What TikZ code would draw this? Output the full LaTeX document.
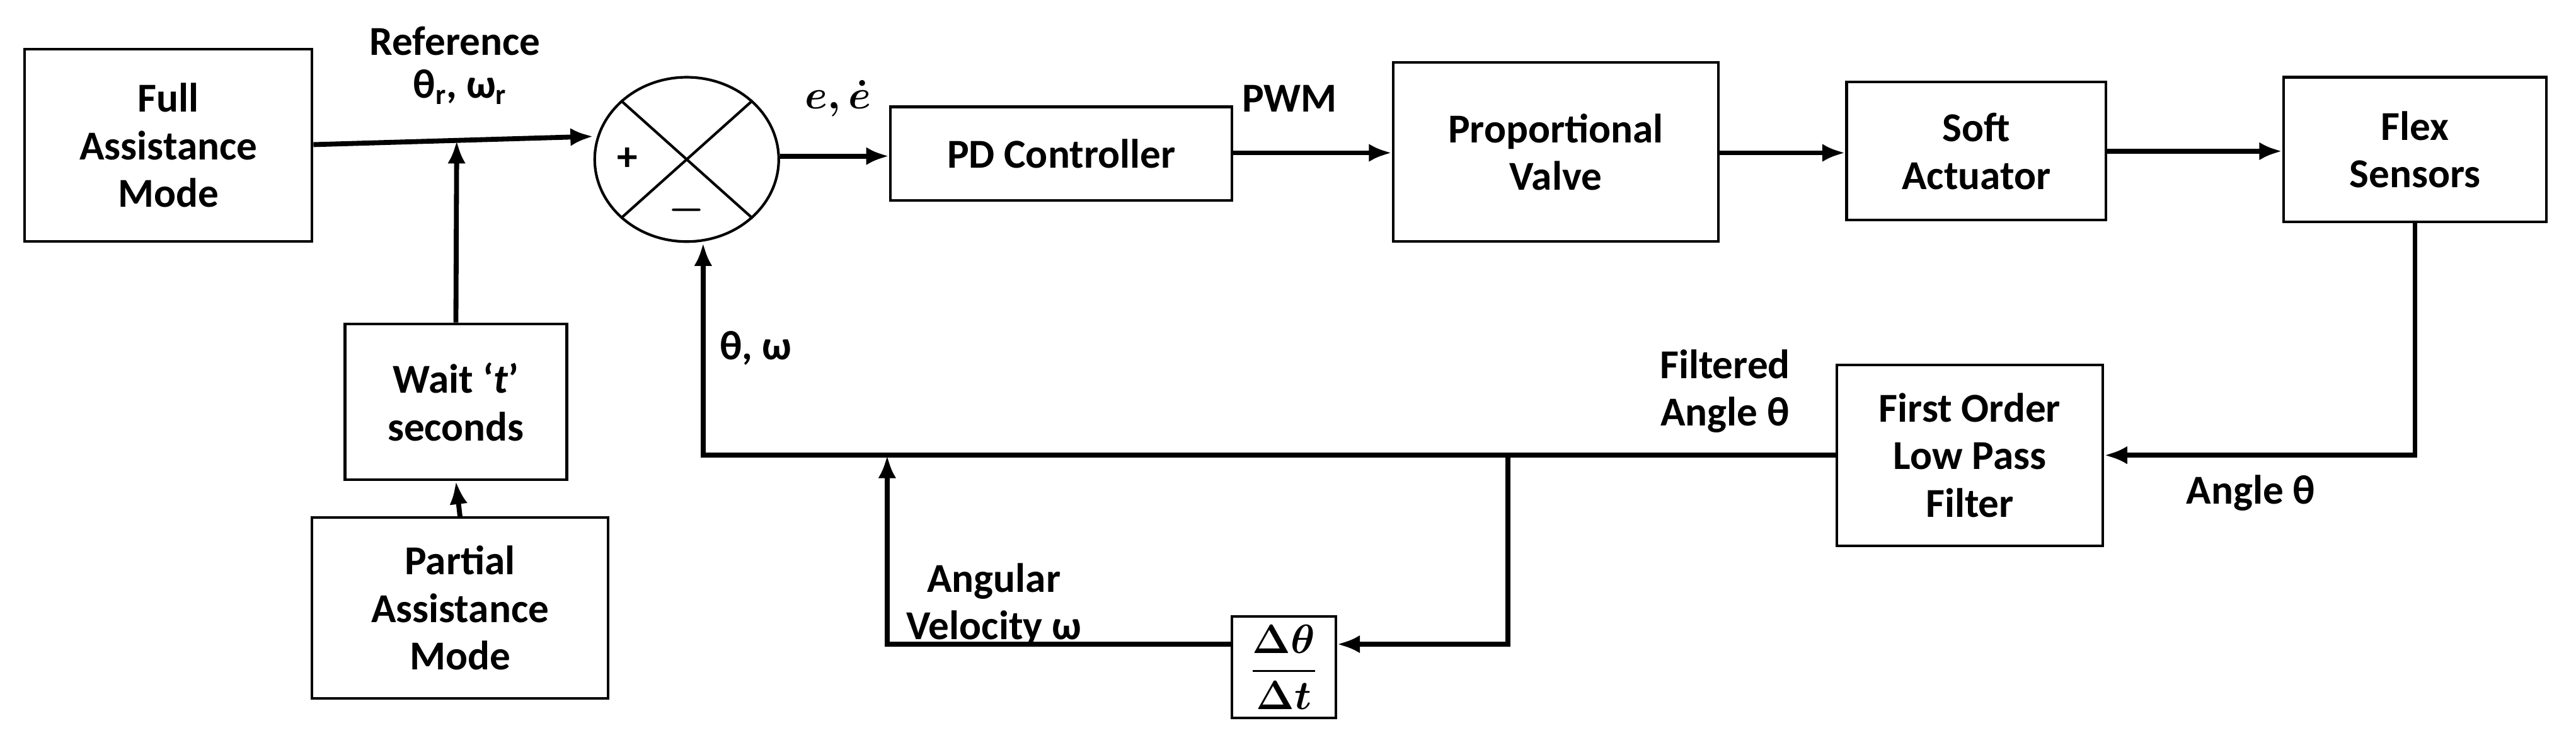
\documentclass[tikz,border=0pt]{standalone}
\usepackage{fontspec}
\setmainfont{Carlito}
\usepackage{amsmath}
\usetikzlibrary{arrows.meta,shapes.geometric}
\begin{document}
\begin{tikzpicture}[x=1pt,y=-1pt,
 every node/.style={font=\fontsize{25}{29}\selectfont\bfseries,align=center},
 box/.style={draw,line width=1.6pt,inner sep=0pt},
 ln/.style={line width=3pt,-{Latex[length=14pt,width=11pt]}},
 pl/.style={line width=3pt}]
\useasboundingbox (0,0) rectangle (1568,450);
\node[box,minimum width=175,minimum height=117] (full) at (102.5,88.5) {Full\\Assistance\\Mode};
\node[box,minimum width=135,minimum height=95] (wait) at (277.5,244.5) {Wait `\textit{t}'\\seconds};
\node[box,minimum width=180,minimum height=110] (part) at (280,370) {Partial\\Assistance\\Mode};
\node[draw,line width=1.6pt,ellipse,minimum width=112,minimum height=100,inner sep=0pt] (sum) at (418,97) {};
\draw[line width=1.6pt] (sum.north west)--(sum.south east) (sum.north east)--(sum.south west);
\node at (382,97) {+};
\node at (418,128) {$\boldsymbol{-}$};
\node[box,minimum width=208,minimum height=57] (pd) at (646,93.5) {PD Controller};
\node[box,minimum width=198,minimum height=109] (valve) at (947,92.5) {Proportional\\Valve};
\node[box,minimum width=158,minimum height=84] (soft) at (1203,92) {Soft\\Actuator};
\node[box,minimum width=160,minimum height=88] (flex) at (1470,91) {Flex\\Sensors};
\node[box,minimum width=162,minimum height=110] (filt) at (1199,277) {First Order\\Low Pass\\Filter};
\node[box,minimum width=63,minimum height=62] (der) at (781.5,406) {$\dfrac{\boldsymbol{\Delta\theta}}{\boldsymbol{\Delta t}}$};
\coordinate (j1) at (278,85.5);
\coordinate (c1) at (1470,277);
\coordinate (c2) at (428,277);
\coordinate (j2) at (918,277);
\coordinate (c3) at (918,392);
\coordinate (c4) at (540,392);
\coordinate (j3) at (540,277);
\draw[ln] (full.east|-0,88) -- (sum.west|-0,83);
\draw[ln] (wait.north) -- (j1);
\draw[ln] (part.north) -- (wait.south);
\draw[ln] (sum.east|-0,95) -- (pd.west|-0,95);
\draw[ln] (pd.east|-0,93) -- (valve.west|-0,93);
\draw[ln] (valve.east|-0,93) -- (soft.west|-0,93);
\draw[ln] (soft.east|-0,92) -- (flex.west|-0,92);
\draw[ln] (flex.south) -- (c1) -- (filt.east|-c1);
\draw[ln] (filt.west|-c1) -- (c2) -- (sum.south-|c2);
\draw[ln] (j2) -- (c3) -- (der.east|-c3);
\draw[ln] (der.west|-c4) -- (c4) -- (j3);
\node at (277,25) {Reference};
\node at (280,53) {θ\textsubscript{r}, ω\textsubscript{r}};
\node at (510,60) {$\boldsymbol{e,\dot e}$};
\node at (785,60) {PWM};
\node at (460,212) {θ, ω};
\node at (1050,238) {Filtered\\Angle θ};
\node at (1370,300) {Angle θ};
\node at (605,368) {Angular\\Velocity ω};
\end{tikzpicture}
\end{document}
